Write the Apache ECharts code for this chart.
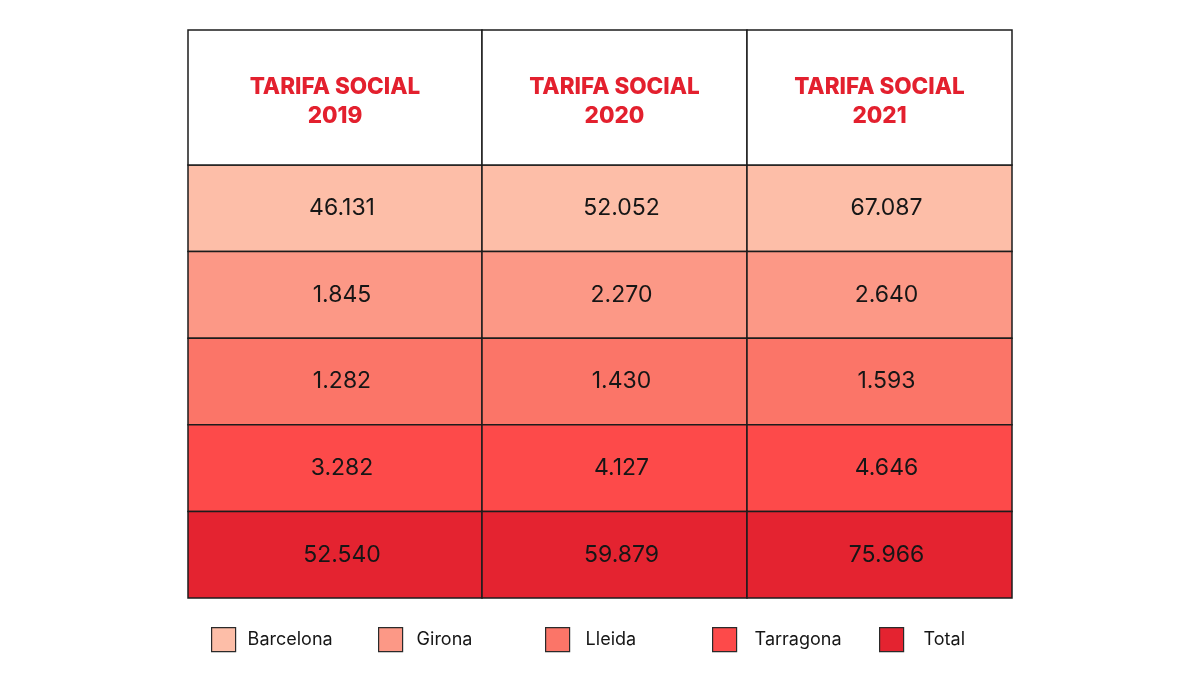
<!DOCTYPE html>
<html>
<head>
<meta charset="utf-8">
<script src="https://cdn.jsdelivr.net/npm/echarts@6/dist/echarts.min.js"></script>
<style>
html,body{margin:0;padding:0;background:#fff;}
#chart{width:1200px;height:676px;}
</style>
</head>
<body>
<div id="chart"></div>
<script>
// ---- data ----
const years = ['2019', '2020', '2021'];
const headerLabels = ['TARIFA SOCIAL\n2019', 'TARIFA SOCIAL\n2020', 'TARIFA SOCIAL\n2021'];
const regions = ['Barcelona', 'Girona', 'Lleida', 'Tarragona', 'Total'];
const barcelona = [46131, 52052, 67087];
const girona = [1845, 2270, 2640];
const lleida = [1282, 1430, 1593];
const tarragona = [3282, 4127, 4646];
const total = [52540, 59879, 75966];
const regionValues = [barcelona, girona, lleida, tarragona, total];
const regionColors = ['#FDBEA8', '#FC9886', '#FB7568', '#FD4A4A', '#E42330'];

// ---- layout / style ----
const colWeights = [294, 265, 265];
const borderColor = '#1c1c1c';
const fontFamily = 'Inter, "Noto Sans", sans-serif';

function fmt(v) {
  return String(v).replace(/\B(?=(\d{3})+(?!\d))/g, '.');
}

function colRect(cs, idx) {
  const sum = colWeights.reduce((a, b) => a + b, 0);
  let acc = 0;
  for (let i = 0; i < idx; i++) acc += colWeights[i];
  return {
    x: cs.x + cs.width * acc / sum,
    w: cs.width * colWeights[idx] / sum
  };
}

function makeRender(fill, textColor, textFont, dx, dy, texts) {
  return function (params, api) {
    const col = api.value(0);
    const center = api.coord([col, api.value(1)]);
    const size = api.size([1, 1]);
    const cr = colRect(params.coordSys, col);
    const y0 = center[1] - size[1] / 2;
    return {
      type: 'group',
      children: [{
        type: 'rect',
        shape: { x: cr.x, y: y0, width: cr.w, height: size[1] },
        style: { fill: fill, stroke: borderColor, lineWidth: 1.5 }
      }, {
        type: 'text',
        x: cr.x + cr.w / 2 + dx,
        y: center[1] + dy,
        style: Object.assign({
          text: texts[params.dataIndex],
          align: 'center',
          verticalAlign: 'middle',
          fill: textColor
        }, textFont)
      }]
    };
  };
}

const series = [];
regions.forEach((name, r) => {
  series.push({
    name: name,
    type: 'custom',
    xAxisIndex: 0,
    yAxisIndex: 0,
    color: regionColors[r],
    encode: { x: 0, y: 1 },
    data: regionValues[r].map((v, i) => [i, name, v]),
    renderItem: makeRender(regionColors[r], '#161616',
      { fontSize: 23, fontFamily: fontFamily, fontWeight: 400 }, 7, 0,
      regionValues[r].map(fmt)),
    z: 2
  });
});
series.push({
  name: 'header',
  type: 'custom',
  xAxisIndex: 1,
  yAxisIndex: 1,
  encode: { x: 0, y: 1 },
  data: headerLabels.map((h, i) => [i, 'h']),
  renderItem: makeRender('#ffffff', '#E3202E',
    { fontSize: 22.5, fontFamily: fontFamily, fontWeight: 800, lineHeight: 29 }, 0, 4,
    headerLabels),
  z: 2
});

const legends = regions.map((name, i) => ({
  data: [name],
  left: 211 + 167 * i,
  top: 627,
  padding: 0,
  itemWidth: 24,
  itemHeight: 24,
  icon: 'rect',
  selectedMode: false,
  itemStyle: { borderColor: '#2a2a2a', borderWidth: 1.2 },
  textStyle: {
    fontSize: 18,
    fontFamily: fontFamily,
    color: '#161616',
    padding: [0, 0, 0, 7 + i * 2]
  }
}));

const chart = echarts.init(document.getElementById('chart'));
chart.setOption({
  animation: false,
  backgroundColor: '#ffffff',
  grid: [
    { left: 188, right: 188, top: 165, height: 433 },
    { left: 188, right: 188, top: 30, height: 135 }
  ],
  xAxis: [
    { type: 'category', data: years, gridIndex: 0, show: false },
    { type: 'category', data: years, gridIndex: 1, show: false }
  ],
  yAxis: [
    { type: 'category', data: regions, inverse: true, gridIndex: 0, show: false },
    { type: 'category', data: ['h'], gridIndex: 1, show: false }
  ],
  legend: legends,
  series: series
});
</script>
</body>
</html>
